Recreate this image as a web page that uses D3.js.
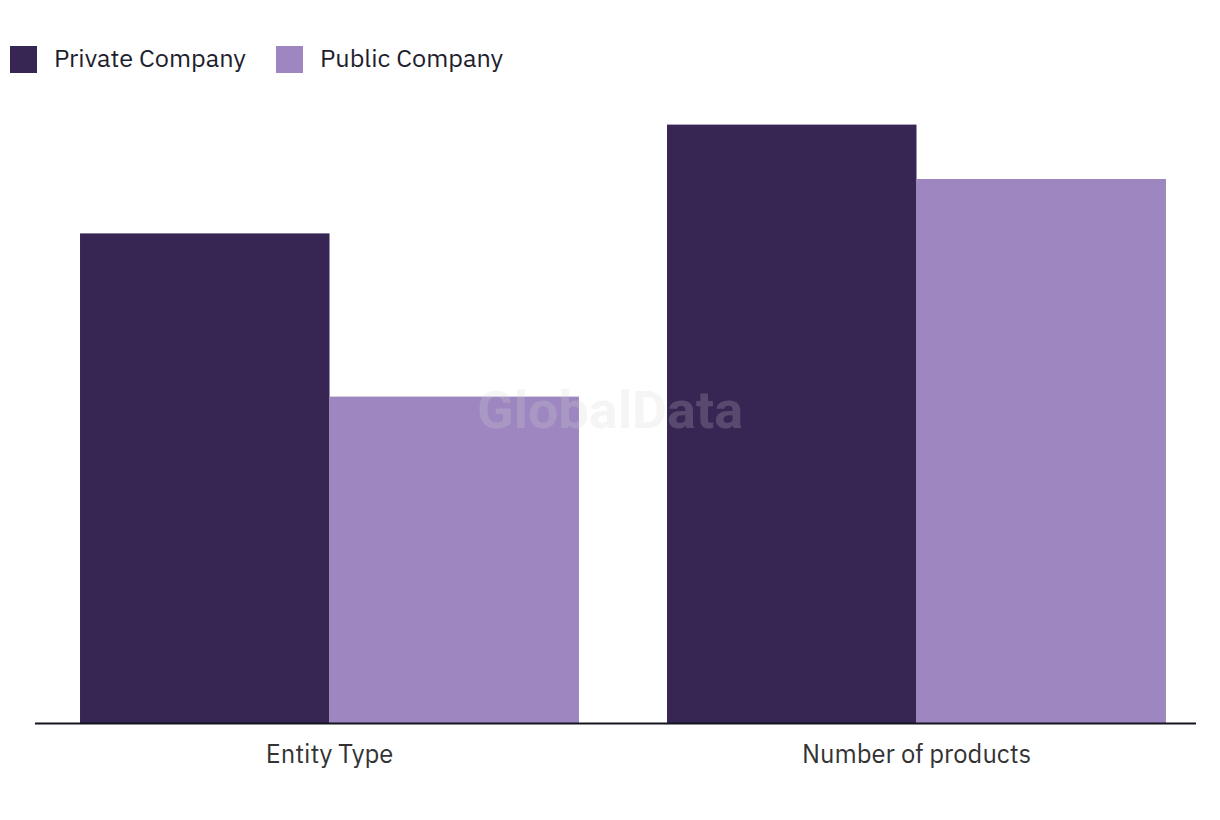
<!DOCTYPE html>
<html><head><meta charset="utf-8">
<script src="https://cdn.jsdelivr.net/npm/d3@7"></script>
<style>body{margin:0;background:#fff}svg{display:block;font-family:"IBM Plex Sans","Inter","Noto Sans",sans-serif}</style>
</head><body><svg id="c" width="1220" height="820"></svg>
<script>
const categories = ["Entity Type", "Number of products"];
const seriesNames = ["Private Company", "Public Company"];
const privateValues = [9, 11];
const publicValues = [6, 10];
const colors = ["#372554", "#9e87c0"];

const svg = d3.select("#c");
const x0 = d3.scaleBand().domain(categories).range([36, 1210]).paddingInner(0.15).paddingOuter(0.075);
const x1 = d3.scaleBand().domain(seriesNames).range([0, x0.bandwidth()]);
const y = d3.scaleLinear().domain([0, 12]).range([723, 70.2]);
const color = d3.scaleOrdinal().domain(seriesNames).range(colors);
const series = [privateValues, publicValues];

const g = svg.append("g");
categories.forEach((c, i) => {
  seriesNames.forEach((s, j) => {
    const v = series[j][i];
    g.append("rect").attr("x", x0(c) + x1(s)).attr("width", x1.bandwidth())
      .attr("y", y(v)).attr("height", y(0) - y(v)).attr("fill", color(s));
  });
});

// watermark
svg.append("text").attr("x", 610).attr("y", 428).attr("text-anchor", "middle")
  .attr("font-family", "Roboto, Inter, sans-serif").attr("font-weight", 700).attr("font-size", 52)
  .attr("textLength", 266).attr("lengthAdjust", "spacingAndGlyphs")
  .attr("fill", "#d2d2d2").attr("fill-opacity", 0.22).text("GlobalData");

// x axis
const xAxis = svg.append("g").attr("transform", "translate(0,723)")
  .call(d3.axisBottom(x0).tickSize(0).tickPadding(22));
xAxis.select(".domain").remove();
xAxis.append("line").attr("x1", 35).attr("x2", 1196).attr("y1", 0.5).attr("y2", 0.5)
  .attr("stroke", "#14141f").attr("stroke-width", 2);
xAxis.selectAll(".tick text").attr("font-size", 25.5).attr("fill", "#333")
  .attr("font-family", "\"IBM Plex Sans\",Inter,\"Noto Sans\",sans-serif");

// legend
const legendX = [10, 276];
const leg = svg.append("g");
seriesNames.forEach((s, j) => {
  const lg = leg.append("g").attr("transform", `translate(${legendX[j]},46)`);
  lg.append("rect").attr("width", 27).attr("height", 27).attr("fill", color(s));
  lg.append("text").attr("x", 44).attr("y", 21).attr("font-size", 25.3).attr("fill", "#1e1e2e").text(s);
});
</script></body></html>
